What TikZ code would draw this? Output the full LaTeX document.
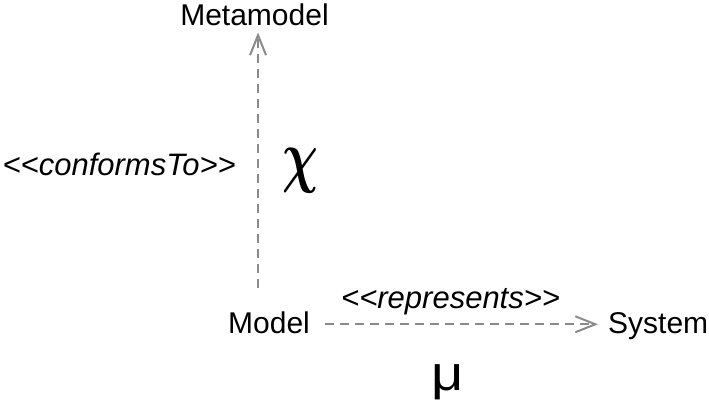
\documentclass[tikz,border=0pt]{standalone}
\usepackage{fontspec}
\setmainfont{Liberation Sans}
\usetikzlibrary{arrows.meta}
\definecolor{conncol}{HTML}{8A8A8A}
\newcommand\dbllt{<\kern0pt<}
\newcommand\dblgt{>\kern0pt>}
\tikzset{
  lbl/.style={inner sep=0pt, font=\fontsize{30}{36}\selectfont},
  stereo/.style={inner sep=0pt, font=\fontsize{31}{36}\selectfont\itshape},
  greek/.style={inner sep=0pt, font=\fontsize{10}{12}\selectfont},
  conn/.style={draw=conncol, line width=2pt, dash pattern=on 9pt off 6pt,
    -{Straight Barb[length=20pt,width=16pt,line width=2pt]}}
}
\begin{document}
\begin{tikzpicture}[x=1pt,y=-1pt]
\useasboundingbox (0,0) rectangle (709,405);
\node[lbl, anchor=base] (meta) at (254.5,25) {Metamodel};
\node[lbl, anchor=base west] (model) at (228,333) {Model};
\node[lbl, anchor=base west] (sys) at (608,333) {System};
\node[stereo, anchor=base east] (conf) at (236,175) {\dbllt conformsTo\dblgt};
\node[stereo, anchor=base west] (rep) at (341,308) {\dbllt represents\dblgt};
\node[greek] (chi) at (300,171) {\scalebox{5}[7]{\boldmath$\chi$}};
\node[greek] (mu) at (448,382) {\scalebox{5.6}[4.9]{μ}};
\draw[conn] ([xshift=3.5pt,yshift=23pt]meta.south |- model.north) -- ([xshift=3.5pt,yshift=-7pt]meta.south);
\draw[conn] ([xshift=15pt,yshift=-2pt]model.east) -- ([xshift=-10pt,yshift=-2pt]sys.west |- model.east);
\end{tikzpicture}
\end{document}
